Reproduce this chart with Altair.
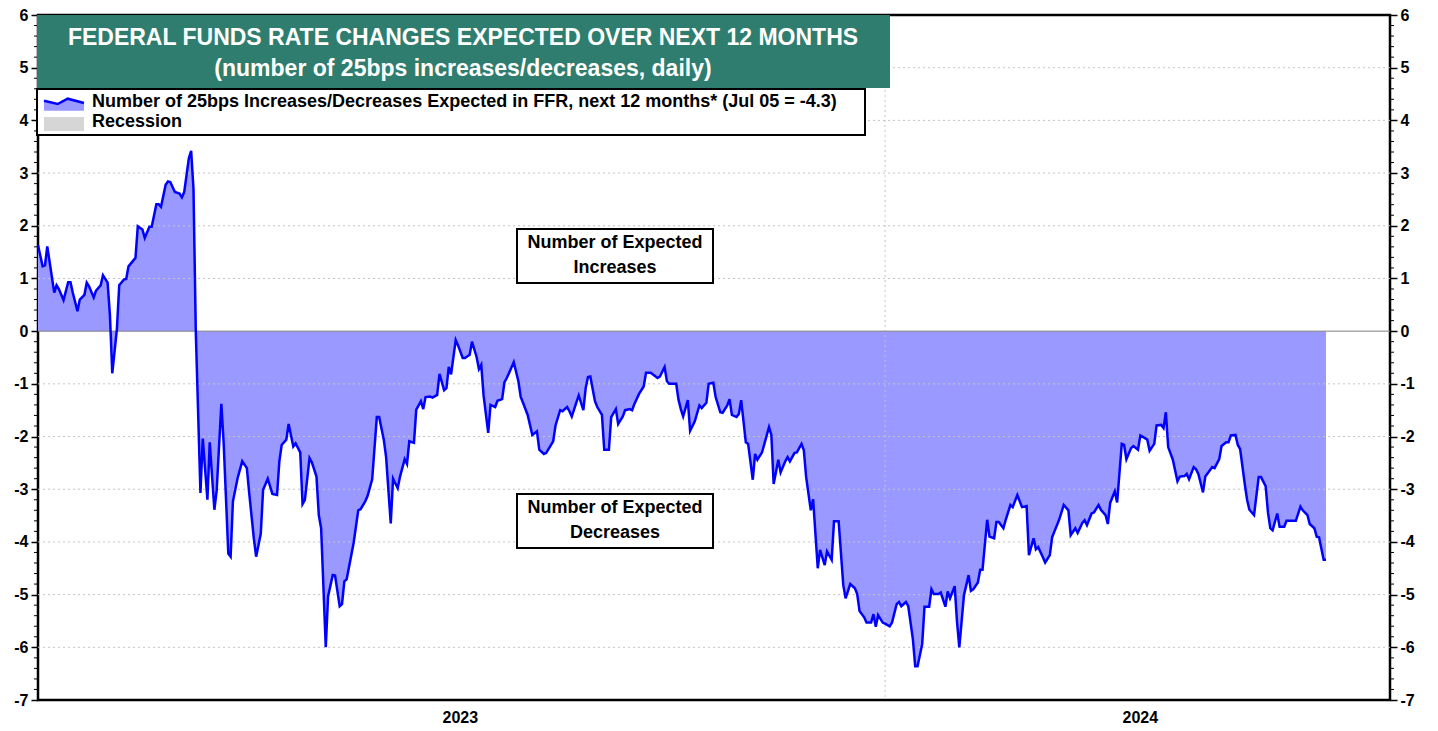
import altair as alt
import pandas as pd
import numpy as np

# ---------------- data ----------------
# days counted from 2023-01-01, value = number of 25bp moves expected over next 12 months
days_2023 = [0, 2, 3, 4, 7, 8, 9, 11, 13, 14, 15, 17, 18, 20, 21, 22, 24, 25, 27, 28, 30, 31, 32, 34, 35, 37, 38, 39,
             42, 43, 45, 46, 48, 49, 51, 52, 53, 55, 56, 57, 59, 61, 62, 63, 65, 66, 67, 68, 70, 71, 73, 74, 76, 77,
             79, 80, 82, 83, 84, 86, 88, 90, 91, 93, 94, 96, 97, 99, 101, 103, 104, 105, 107, 108, 110, 111, 113,
             114, 115, 117, 118, 120, 121, 122, 124, 125, 127, 128, 130, 131, 132, 133, 136, 138, 139, 141, 142,
             144, 146, 147, 149, 150, 152, 153, 155, 156, 158, 159, 160, 162, 163, 165, 166, 167, 169, 170, 172,
             173, 175, 176, 177, 178, 180, 181, 183, 184, 186, 187, 189, 190, 191, 192, 194, 195, 197, 198, 200,
             201, 202, 205, 207, 208, 209, 211, 213, 215, 216, 218, 219, 222, 223, 225, 226, 228, 229, 230, 232,
             233, 235, 236, 237, 238, 240, 241, 243, 244, 246, 247, 249, 250, 252, 253, 255, 256, 257, 259, 261,
             262, 264, 267, 268, 270, 271, 272, 275, 276, 277, 278, 280, 281, 283, 285, 286, 288, 289, 291, 292,
             294, 295, 297, 298, 299, 301, 302, 303, 305, 306, 308, 309, 310, 312, 315, 316, 317, 319, 320, 322,
             323, 324, 326, 327, 329, 330, 331, 333, 334, 336, 337, 339, 340, 342, 343, 345, 347, 348, 350, 352,
             353, 354, 356, 357, 359, 360, 361, 362, 364]
values_2023 = [1.63, 1.23, 1.25, 1.61, 0.73, 0.87, 0.80, 0.59, 0.93, 0.93, 0.73, 0.38, 0.60, 0.69, 0.92, 0.85, 0.64,
               0.77, 0.87, 1.06, 0.92, 0.30, -0.80, 0.04, 0.87, 0.98, 0.99, 1.23, 1.39, 1.99, 1.93, 1.77, 1.98,
               1.98, 2.41, 2.41, 2.36, 2.78, 2.84, 2.83, 2.64, 2.61, 2.54, 2.64, 3.28, 3.42, 2.70, -0.02, -3.07,
               -2.04, -3.20, -2.11, -3.39, -3.02, -1.38, -2.12, -4.22, -4.28, -3.23, -2.79, -2.47, -2.60, -3.07,
               -3.93, -4.28, -3.84, -3.01, -2.80, -3.09, -3.11, -2.47, -2.16, -2.06, -1.76, -2.19, -2.13, -2.30,
               -3.28, -3.20, -2.41, -2.49, -2.76, -3.49, -3.74, -6.00, -5.03, -4.63, -4.64, -5.22, -5.18, -4.75,
               -4.71, -4.02, -3.40, -3.38, -3.23, -3.13, -2.81, -1.63, -1.63, -2.06, -2.39, -3.65, -2.80, -2.98,
               -2.76, -2.43, -2.52, -2.09, -2.12, -1.49, -1.33, -1.48, -1.25, -1.24, -1.26, -1.21, -0.81, -1.12,
               -1.08, -0.68, -0.82, -0.17, -0.27, -0.51, -0.51, -0.45, -0.20, -0.49, -0.72, -0.64, -1.22, -1.93,
               -1.40, -1.44, -1.32, -1.29, -0.97, -0.89, -0.59, -0.95, -1.25, -1.36, -1.59, -1.97, -1.90, -2.25,
               -2.33, -2.31, -2.09, -1.79, -1.50, -1.52, -1.44, -1.52, -1.62, -1.35, -1.22, -1.50, -1.08, -0.87,
               -0.86, -1.33, -1.44, -1.59, -2.25, -2.25, -1.63, -1.48, -1.76, -1.62, -1.50, -1.48, -1.50, -1.38,
               -1.19, -1.05, -0.79, -0.79, -0.89, -0.86, -0.68, -0.95, -1.00, -1.00, -1.30, -1.48, -1.62, -1.31,
               -1.89, -1.71, -1.41, -1.46, -1.36, -1.00, -0.98, -1.25, -1.54, -1.55, -1.41, -1.29, -1.59, -1.63,
               -1.57, -1.31, -2.11, -2.14, -2.82, -2.33, -2.44, -2.30, -1.82, -1.97, -2.90, -2.44, -2.68, -2.47,
               -2.39, -2.47, -2.31, -2.30, -2.14, -2.26, -2.77, -3.40, -3.19, -4.50, -4.15, -4.44, -4.18, -4.34,
               -3.61, -3.61, -4.82, -5.07, -4.80, -4.88, -4.99, -5.31, -5.43, -5.53, -5.53, -5.37, -5.61, -5.39,
               -5.53]
days_2024 = [365, 367, 368, 370, 371, 372, 374, 375, 377, 378, 379, 381, 382, 384, 385, 386, 388, 389, 391, 392,
             393, 395, 396, 397, 399, 401, 402, 403, 405, 406, 407, 409, 410, 412, 413, 414, 416, 417, 419, 420,
             422, 424, 426, 427, 429, 430, 431, 433, 434, 436, 437, 438, 440, 442, 444, 445, 447, 448, 450, 451,
             452, 454, 455, 457, 458, 460, 461, 462, 464, 465, 467, 468, 469, 471, 472, 474, 475, 477, 478, 479,
             481, 482, 484, 485, 486, 487, 489, 491, 492, 494, 495, 496, 498, 499, 500, 502, 503, 506, 507, 509,
             510, 512, 513, 514, 516, 517, 518, 520, 521, 522, 524, 526, 527, 529, 530, 531, 532, 534, 535, 537,
             538, 542, 544, 545, 547, 548, 550, 551, 552, 554, 555]
values_2024 = [-5.55, -5.60, -5.53, -5.18, -5.14, -5.22, -5.14, -5.22, -5.85, -6.36, -6.36, -5.94, -5.23, -5.23,
               -4.90, -4.99, -4.99, -4.96, -5.23, -4.94, -5.07, -4.84, -5.51, -6.00, -5.01, -4.63, -4.93, -4.90,
               -4.77, -4.53, -4.53, -3.58, -3.90, -3.93, -3.62, -3.62, -3.74, -3.58, -3.30, -3.34, -3.11, -3.34,
               -3.32, -4.25, -3.93, -4.14, -4.10, -4.29, -4.39, -4.25, -3.91, -3.80, -3.58, -3.30, -3.40, -3.87,
               -3.74, -3.83, -3.64, -3.59, -3.68, -3.46, -3.44, -3.30, -3.39, -3.49, -3.66, -3.26, -3.04, -3.25,
               -2.14, -2.16, -2.43, -2.22, -2.18, -2.25, -1.98, -2.03, -2.06, -2.27, -2.14, -1.79, -1.78, -1.84,
               -1.54, -2.20, -2.44, -2.85, -2.76, -2.75, -2.71, -2.81, -2.58, -2.62, -2.71, -3.06, -2.76, -2.58,
               -2.60, -2.43, -2.18, -2.11, -2.11, -1.98, -1.97, -2.16, -2.24, -2.90, -3.20, -3.39, -3.49, -2.77,
               -2.77, -2.94, -3.44, -3.74, -3.78, -3.46, -3.71, -3.71, -3.60, -3.60, -3.33, -3.40, -3.49, -3.66,
               -3.74, -3.90, -3.91, -4.34, -4.34]

y_ticks = list(range(-7, 7))
grid_levels = [-6, -5, -4, -3, -2, -1, 1, 2, 3, 4, 5]
quarter_starts = [(2023, 1), (2023, 4), (2023, 7), (2023, 10), (2024, 1), (2024, 4), (2024, 7)]
year_labels = ["2023", "2024"]
year_label_dates = ["2023-07-02", "2024-04-20"]

title_line1 = "FEDERAL FUNDS RATE CHANGES EXPECTED OVER NEXT 12 MONTHS"
title_line2 = "(number of 25bps increases/decreases, daily)"
legend_line1 = "Number of 25bps Increases/Decreases Expected in FFR, next 12 months* (Jul 05 = -4.3)"
legend_line2 = "Recession"

# ---------------- build ----------------
start = pd.Timestamp("2023-01-01")
df = pd.DataFrame({
    "date": start + pd.to_timedelta(days_2023 + days_2024, unit="D"),
    "value": values_2023 + values_2024,
})

FONT = "Liberation Sans, Arial, Helvetica, sans-serif"
W, H = 1352, 685
AREA_FILL = "#9999ff"
LINE_COL = "#0000ff"
TEAL = "#2e7d6e"

xscale = alt.Scale(domain=[alt.DateTime(year=2023, month=1, date=1),
                           alt.DateTime(year=2024, month=8, date=5, hours=14)])
yscale = alt.Scale(domain=[-7, 6], nice=False, zero=False)

xaxis = alt.Axis(values=[alt.DateTime(year=y, month=m, date=1) for y, m in quarter_starts],
                 labels=False, ticks=True, tickSize=6, tickColor="black", tickWidth=1.5,
                 domain=False, grid=False, title=None)


def yaxis(orient):
    return alt.Axis(orient=orient, values=y_ticks, labelExpr="datum.value + ''",
                    labelFont=FONT, labelFontWeight="bold", labelFontSize=16, labelColor="black",
                    labelPadding=3, tickColor="black", tickSize=7, tickWidth=1.5,
                    domain=False, grid=False, title=None)


one = pd.DataFrame({"k": [0]})

area = alt.Chart(df).mark_area(color=AREA_FILL, opacity=1).encode(
    x=alt.X("date:T", scale=xscale, axis=xaxis),
    y=alt.Y("value:Q", scale=yscale, axis=yaxis("left")),
)

grid = alt.Chart(pd.DataFrame({"level": grid_levels})).mark_rule(
    color="#c4c4c4", strokeDash=[2, 3], strokeWidth=1
).encode(y=alt.Y("level:Q", scale=yscale, axis=None))

vgrid = alt.Chart(pd.DataFrame({"date": ["2024-01-01"]})).mark_rule(
    color="#c4c4c4", strokeDash=[2, 3], strokeWidth=1
).encode(x=alt.X("date:T", scale=xscale, axis=None))

zero = alt.Chart(pd.DataFrame({"level": [0]})).mark_rule(color="#808080", strokeWidth=1).encode(
    y=alt.Y("level:Q", scale=yscale, axis=None))

line = alt.Chart(df).mark_line(color=LINE_COL, strokeWidth=2.5).encode(
    x=alt.X("date:T", scale=xscale, axis=None),
    y=alt.Y("value:Q", scale=yscale, axis=yaxis("right")),
)

minor_levels = [round(v, 1) for v in np.arange(-7, 6.001, 0.2) if abs(v - round(v)) > 1e-6]
minor_df = pd.DataFrame({"level": minor_levels})
minor_left = alt.Chart(minor_df).mark_rule(color="black", strokeWidth=1).encode(
    y=alt.Y("level:Q", scale=yscale, axis=None), x=alt.value(-4), x2=alt.value(0))
minor_right = alt.Chart(minor_df).mark_rule(color="black", strokeWidth=1).encode(
    y=alt.Y("level:Q", scale=yscale, axis=None), x=alt.value(W), x2=alt.value(W + 4))

# title box
title_box = alt.Chart(one).mark_rect(color=TEAL).encode(
    x=alt.value(-1), x2=alt.value(852), y=alt.value(0), y2=alt.value(73))
t1 = alt.Chart(one).mark_text(font=FONT, fontSize=23, fontWeight="bold", color="white",
                              align="center", baseline="middle").encode(
    x=alt.value(425), y=alt.value(23), text=alt.value(title_line1))
t2 = alt.Chart(one).mark_text(font=FONT, fontSize=23, fontWeight="bold", color="white",
                              align="center", baseline="middle").encode(
    x=alt.value(425), y=alt.value(54), text=alt.value(title_line2))

# legend box
leg_box = alt.Chart(one).mark_rect(fill="white", stroke="black", strokeWidth=2).encode(
    x=alt.value(-1), x2=alt.value(827), y=alt.value(74), y2=alt.value(120))
icon_fill = alt.Chart(one).mark_point(
    shape="M-1,-0.165 L-0.315,0 L0.185,-0.265 L1,-0.05 L1,0.335 L-1,0.335 Z",
    filled=True, fill=AREA_FILL, opacity=1, strokeWidth=0, size=1600).encode(
    x=alt.value(26), y=alt.value(89))
icon_line = alt.Chart(one).mark_point(
    shape="M-1,-0.165 L-0.315,0 L0.185,-0.265 L1,-0.05",
    filled=False, stroke=LINE_COL, opacity=1, strokeWidth=2.5, size=1600).encode(
    x=alt.value(26), y=alt.value(89))
rec_swatch = alt.Chart(one).mark_rect(color="#d6d6d6").encode(
    x=alt.value(6), x2=alt.value(46), y=alt.value(102), y2=alt.value(116))
l1 = alt.Chart(one).mark_text(font=FONT, fontSize=18, fontWeight="bold", color="black",
                              align="left", baseline="middle").encode(
    x=alt.value(54), y=alt.value(87), text=alt.value(legend_line1))
l2 = alt.Chart(one).mark_text(font=FONT, fontSize=18, fontWeight="bold", color="black",
                              align="left", baseline="middle").encode(
    x=alt.value(54), y=alt.value(107), text=alt.value(legend_line2))


def note(y0, lines):
    box = alt.Chart(one).mark_rect(fill="white", stroke="black", strokeWidth=2).encode(
        x=alt.value(479), x2=alt.value(675), y=alt.value(y0), y2=alt.value(y0 + 54))
    txt = [alt.Chart(one).mark_text(font=FONT, fontSize=18, fontWeight="bold", color="black",
                                    align="center", baseline="middle").encode(
        x=alt.value(577), y=alt.value(y0 + 14 + 25 * i), text=alt.value(s)) for i, s in enumerate(lines)]
    return [box] + txt


notes = note(214, ["Number of Expected", "Increases"]) + note(479, ["Number of Expected", "Decreases"])

years = alt.Chart(pd.DataFrame({"date": year_label_dates, "label": year_labels})).mark_text(
    font=FONT, fontSize=16, fontWeight="bold", color="black", align="center", baseline="middle"
).encode(x=alt.X("date:T", scale=xscale, axis=None), y=alt.value(703), text="label:N")

chart = alt.layer(
    area, grid, vgrid, zero, line, minor_left, minor_right,
    title_box, t1, t2, leg_box, icon_fill, icon_line, rec_swatch, l1, l2, *notes, years
).resolve_axis(y="independent").properties(
    width=W, height=H,
    padding={"left": 30, "top": 7, "right": 36, "bottom": 30},
    autosize=alt.AutoSizeParams(type="none"),
    background="white",
).configure_view(stroke="black", strokeWidth=2.5)

chart.save("out.html", embed_options={"renderer": "svg", "actions": False})
